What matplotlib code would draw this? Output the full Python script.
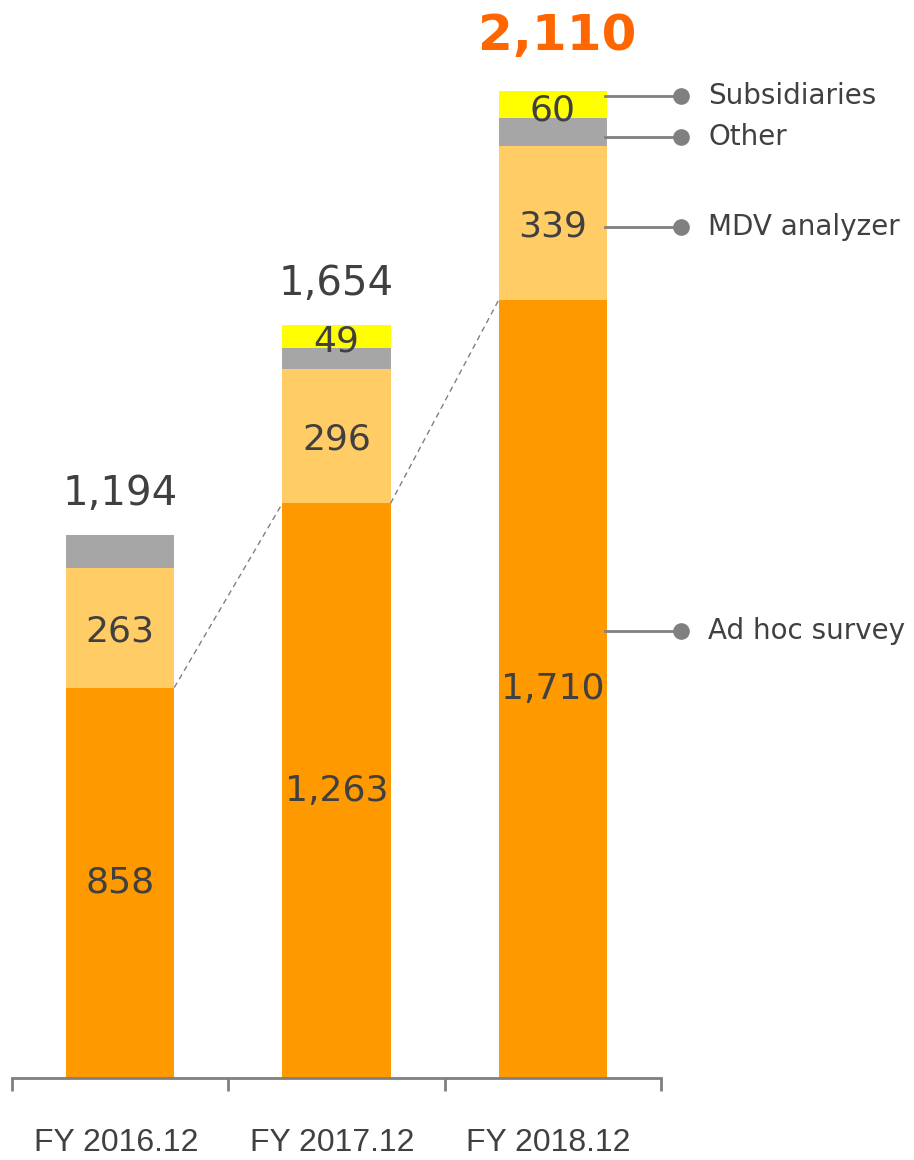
import matplotlib
matplotlib.use("Agg")
import matplotlib.pyplot as plt
import matplotlib.transforms as mtransforms

plt.rcParams['font.family'] = ['DejaVu Sans']

# data
years = ["FY 2016.12", "FY 2017.12", "FY 2018.12"]
ad_hoc = [858, 1263, 1710]
mdv = [263, 296, 339]
other = [73, 46, 60]
subsidiaries = [0, 49, 60]
totals = ["1,194", "1,654", "2,110"]
ad_hoc_labels = ["858", "1,263", "1,710"]
mdv_labels = ["263", "296", "339"]
subs_labels = ["", "49", "60"]
series_names = ["Subsidiaries", "Other", "MDV analyzer", "Ad hoc survey"]

c_adhoc = "#FF9900"
c_mdv = "#FFCC66"
c_other = "#A6A6A6"
c_subs = "#FFFF00"
txt = "#404040"
grey = "#808080"

fig = plt.figure(figsize=(9.14, 11.6), dpi=100)
ax = fig.add_axes([12 / 914, 82 / 1160, 649 / 914, 1078 / 1160])

x = list(range(len(years)))
w = 0.5
b1 = ad_hoc
b2 = [a + m for a, m in zip(ad_hoc, mdv)]
b3 = [a + o for a, o in zip(b2, other)]
tops = [a + s for a, s in zip(b3, subsidiaries)]

ax.bar(x, ad_hoc, w, color=c_adhoc)
ax.bar(x, mdv, w, bottom=b1, color=c_mdv)
ax.bar(x, other, w, bottom=b2, color=c_other)
ax.bar(x, subsidiaries, w, bottom=b3, color=c_subs)

# labels inside bars
for i in x:
    ax.text(i, ad_hoc[i] / 2, ad_hoc_labels[i], ha="center", va="center",
            fontsize=26, color=txt)
    ax.text(i, b1[i] + mdv[i] / 2 - 8, mdv_labels[i], ha="center", va="center",
            fontsize=26, color=txt)
    if subs_labels[i]:
        ax.text(i, b3[i] + subsidiaries[i] / 2 - 12, subs_labels[i], ha="center",
                va="center", fontsize=26, color=txt)

# totals
for i in x[:2]:
    ax.text(i, tops[i] + 90, totals[i], ha="center", va="center", fontsize=29, color=txt)
ax.text(2.02, tops[2] + 120, totals[2], ha="center", va="center", fontsize=36,
        color="#FF6600", fontweight="bold")

# dashed connectors between ad hoc tops
for i in range(len(x) - 1):
    ax.plot([i + w / 2, i + 1 - w / 2], [ad_hoc[i], ad_hoc[i + 1]], ls=(0, (4, 3)),
            color=grey, lw=1)

# series callouts on last bar
last = len(x) - 1
callout_y = [b3[last] + subsidiaries[last] * 0.8,
             b2[last] + other[last] * 0.3,
             b1[last] + mdv[last] * 0.47,
             ad_hoc[last] * 0.574]
for name, yy in zip(series_names, callout_y):
    ax.plot([last + w / 2 - 0.01, last + 0.593], [yy, yy], color=grey, lw=2, clip_on=False)
    ax.plot([last + 0.593], [yy], "o", color=grey, ms=11, clip_on=False)
    ax.text(last + 0.718, yy, name, ha="left", va="center", fontsize=20, color=txt,
            clip_on=False)

ax.set_xlim(-0.5, 2.5)
ax.set_ylim(0, 2369)
for s in ["top", "right", "left"]:
    ax.spines[s].set_visible(False)
ax.spines["bottom"].set_color(grey)
ax.spines["bottom"].set_linewidth(2)
ax.set_yticks([])
ax.set_xticks([-0.5, 0.5, 1.5, 2.5])
ax.set_xticklabels([])
ax.tick_params(axis="x", length=9, width=2, color=grey, direction="out")

# category labels
trans = mtransforms.blended_transform_factory(ax.transData, fig.transFigure)
for i, lab in enumerate(years):
    ax.text(i - 0.02, (1160 - 1143) / 1160, lab, transform=trans, ha="center", va="center",
            fontsize=23, color=txt, family="Liberation Sans", clip_on=False)

fig.savefig("out.png", dpi=100)
